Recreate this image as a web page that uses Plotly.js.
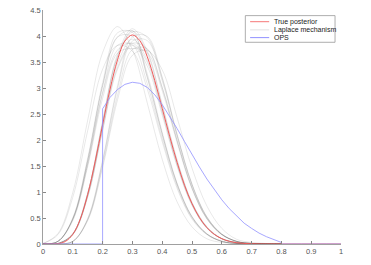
<!DOCTYPE html>
<html><head><meta charset="utf-8">
<script src="https://cdn.plot.ly/plotly-3.0.1.min.js"></script>
<style>html,body{margin:0;padding:0;background:#fff}#chart{width:371px;height:265px}</style>
</head><body><div id="chart"></div>
<script>
// True posterior density
const postX = [0,0.025,0.05,0.075,0.1,0.125,0.15,0.175,0.2,0.225,0.25,0.275,0.3,0.325,0.35,0.375,0.4,0.425,0.45,0.475,0.5,0.525,0.55,0.575,0.6,0.625,0.65,0.675,0.7,0.725,0.75,1.0];
const postY = [0,0,0.006,0.049,0.186,0.478,0.953,1.582,2.29,2.977,3.54,3.904,4.02,3.91,3.60,3.144,2.61,2.072,1.57,1.128,0.776,0.508,0.315,0.185,0.102,0.053,0.025,0.011,0.005,0.002,0.001,0];

// OPS density
const opsX = [0,0.2,0.2,0.225,0.25,0.275,0.3,0.325,0.35,0.375,0.4,0.425,0.45,0.475,0.5,0.525,0.55,0.575,0.6,0.625,0.65,0.675,0.7,0.725,0.75,0.775,0.8,0.8,1.0];
const opsY = [0,0,2.6,2.82,2.97,3.07,3.11,3.09,3.01,2.87,2.68,2.46,2.22,1.97,1.72,1.48,1.25,1.04,0.85,0.68,0.53,0.40,0.30,0.21,0.14,0.08,0.03,0,0];

// Laplace mechanism samples
const lapX = [0,0.05,0.1,0.15,0.2,0.25,0.3,0.35,0.4,0.45,0.5,0.55,0.6,0.65,0.7,0.75,0.8];
const lap01 = [0.01,0.2,0.99,2.38,3.68,4.18,3.74,2.71,1.63,0.81,0.33,0.1,0.03,0.01,0,0,0];
const lap02 = [0,0.05,0.5,1.65,3.1,4.06,4.07,3.27,2.15,1.17,0.53,0.2,0.05,0.01,0,0,0];
const lap03 = [0,0.05,0.47,1.55,2.92,3.82,3.83,3.08,2.03,1.11,0.5,0.19,0.05,0.01,0,0,0];
const lap04 = [0,0.01,0.2,0.98,2.36,3.65,4.14,3.71,2.69,1.62,0.8,0.33,0.11,0.03,0.01,0,0];
const lap05 = [0,0.01,0.18,0.9,2.18,3.36,3.82,3.42,2.48,1.49,0.74,0.3,0.1,0.02,0,0,0];
const lap06 = [0,0,0.05,0.48,1.58,2.98,3.9,3.91,3.14,2.07,1.13,0.51,0.19,0.05,0.01,0,0];
const lap07 = [0,0,0.05,0.49,1.61,3.04,3.98,3.99,3.21,2.11,1.15,0.52,0.19,0.05,0.01,0,0];
const lap08 = [0,0.05,0.47,1.53,2.89,3.73,3.86,3.49,2.53,1.52,0.76,0.31,0.1,0.03,0.01,0,0];
const lap09 = [0,0.01,0.18,0.91,2.2,3.4,3.86,3.75,3.01,1.99,1.08,0.49,0.18,0.05,0.01,0,0];
const lap10 = [0,0.05,0.45,1.49,2.8,3.67,3.76,3.68,2.95,1.95,1.06,0.48,0.18,0.05,0.01,0,0];
const lap11 = [0,0.01,0.19,0.97,2.33,3.6,4.1,3.2,2.11,1.15,0.52,0.19,0.06,0.01,0,0,0];
const lap12 = [0.01,0.18,0.9,2.18,3.36,3.82,3.71,2.98,1.97,1.07,0.48,0.18,0.05,0.01,0,0,0];
const lap13 = [0,0,0.05,0.45,1.47,2.77,3.63,3.72,3.35,2.43,1.46,0.73,0.3,0.09,0.03,0.01,0];
const lap14 = [0,0.05,0.49,1.61,3.04,3.98,3.99,3.21,2.11,1.15,0.52,0.19,0.05,0.01,0,0,0];
const lap15 = [0,0,0.05,0.46,1.52,2.86,3.74,3.75,3.01,1.99,1.08,0.49,0.18,0.05,0.01,0,0];
const lap16 = [0,0.01,0.2,0.97,2.33,3.6,4.08,3.97,3.19,2.1,1.15,0.52,0.19,0.05,0.01,0,0];
const lap17 = [0,0.05,0.49,1.61,3.04,3.98,4.1,3.67,2.66,1.6,0.8,0.33,0.1,0.03,0.01,0,0];
const lap18 = [0,0.01,0.19,0.93,2.24,3.47,3.94,3.53,2.56,1.54,0.76,0.31,0.1,0.02,0,0,0];
const lapSeries = [lap01,lap02,lap03,lap04,lap05,lap06,lap07,lap08,lap09,lap10,lap11,lap12,lap13,lap14,lap15,lap16,lap17,lap18];

const legendNames = ["True posterior","Laplace mechanism","OPS"];
const xTicks = [0,0.1,0.2,0.3,0.4,0.5,0.6,0.7,0.8,0.9,1];
const yTicks = [0,0.5,1,1.5,2,2.5,3,3.5,4,4.5];

const redC = "rgb(240,90,90)";
const grayC = "rgba(0,0,0,0.13)";
const blueC = "rgb(145,145,255)";

const traces = [];
lapSeries.forEach(ys => traces.push({x: lapX, y: ys, type: "scatter", mode: "lines",
  line: {color: grayC, width: 0.7, shape: "spline"}, showlegend: false, hoverinfo: "skip"}));
traces.push({x: postX, y: postY, type: "scatter", mode: "lines",
  line: {color: redC, width: 1, shape: "spline"}, showlegend: false});
traces.push({x: opsX, y: opsY, type: "scatter", mode: "lines",
  line: {color: blueC, width: 0.8}, showlegend: false});

const font = "Liberation Sans, Arial, sans-serif";
// manual legend
const lx0 = 0.679, lx1 = 0.98, ly0 = 0.862, ly1 = 0.976;
const rows = [0.950, 0.915, 0.882];
const cols = ["rgb(245,120,120)", "rgb(225,225,225)", blueC];
const shapes = [{type: "rect", xref: "paper", yref: "paper", x0: lx0, x1: lx1, y0: ly0, y1: ly1,
  line: {color: "#999", width: 0.8}, fillcolor: "#fff", layer: "above"}];
const annotations = [];
legendNames.forEach((n, i) => {
  shapes.push({type: "line", xref: "paper", yref: "paper", x0: 0.695, x1: 0.759, y0: rows[i], y1: rows[i],
    line: {color: cols[i], width: 1}, layer: "above"});
  annotations.push({xref: "paper", yref: "paper", x: 0.767, y: rows[i], xanchor: "left", yanchor: "middle",
    text: n, showarrow: false, font: {family: font, size: 7, color: "#222"}});
});

const layout = {
  width: 371, height: 265,
  margin: {l: 43, r: 30, t: 10, b: 21, pad: 0},
  paper_bgcolor: "#fff", plot_bgcolor: "#fff",
  font: {family: font, size: 7.5, color: "#555"},
  showlegend: false,
  xaxis: {range: [0, 1], tickvals: xTicks, ticks: "inside", ticklen: 3, tickcolor: "#888",
    showline: true, linecolor: "#888", linewidth: 0.8, showgrid: false, zeroline: false,
    tickfont: {size: 7.5, color: "#555"}},
  yaxis: {range: [0, 4.5], tickvals: yTicks, ticks: "inside", ticklen: 3, tickcolor: "#888",
    showline: true, linecolor: "#888", linewidth: 0.8, showgrid: false, zeroline: false,
    tickfont: {size: 7.5, color: "#555"}},
  shapes: shapes, annotations: annotations
};
Plotly.newPlot("chart", traces, layout, {staticPlot: true, displayModeBar: false});
</script></body></html>
